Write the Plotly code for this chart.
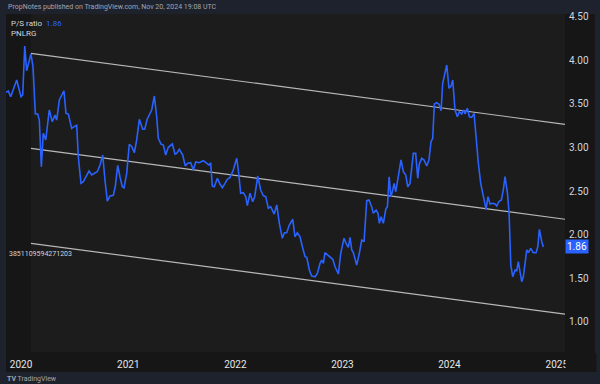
import pandas as pd
import plotly.graph_objects as go

# ---- data (decimal years, P/S ratio) ----
years = [2019.860, 2019.881, 2019.904, 2019.928, 2019.960, 2019.984, 2020.000, 2020.016, 2020.035, 2020.053,
         2020.075, 2020.093, 2020.112, 2020.134, 2020.156, 2020.171, 2020.190, 2020.208, 2020.231, 2020.264,
         2020.292, 2020.317, 2020.333, 2020.358, 2020.401, 2020.420, 2020.442, 2020.473, 2020.495, 2020.520,
         2020.535, 2020.560, 2020.582, 2020.607, 2020.635, 2020.660, 2020.682, 2020.712, 2020.738, 2020.763,
         2020.784, 2020.806, 2020.831, 2020.862, 2020.880, 2020.903, 2020.924, 2020.946, 2020.962, 2020.987,
         2021.011, 2021.034, 2021.058, 2021.080, 2021.105, 2021.136, 2021.155, 2021.179, 2021.220, 2021.245,
         2021.267, 2021.282, 2021.307, 2021.329, 2021.351, 2021.375, 2021.413, 2021.438, 2021.454, 2021.478,
         2021.510, 2021.534, 2021.556, 2021.584, 2021.609, 2021.631, 2021.662, 2021.702, 2021.727, 2021.755,
         2021.771, 2021.786, 2021.805, 2021.833, 2021.858, 2021.880, 2021.905, 2021.926, 2021.951, 2021.982,
         2022.014, 2022.029, 2022.051, 2022.076, 2022.098, 2022.113, 2022.138, 2022.163, 2022.182, 2022.210,
         2022.238, 2022.262, 2022.285, 2022.309, 2022.331, 2022.364, 2022.388, 2022.412, 2022.440, 2022.459,
         2022.481, 2022.505, 2022.537, 2022.558, 2022.580, 2022.605, 2022.627, 2022.652, 2022.668, 2022.692,
         2022.714, 2022.745, 2022.767, 2022.792, 2022.808, 2022.823, 2022.838, 2022.864, 2022.892, 2022.911,
         2022.932, 2022.963, 2022.985, 2023.016, 2023.035, 2023.056, 2023.072, 2023.088, 2023.103, 2023.134,
         2023.159, 2023.181, 2023.203, 2023.228, 2023.249, 2023.274, 2023.289, 2023.315, 2023.333, 2023.346,
         2023.362, 2023.383, 2023.406, 2023.421, 2023.437, 2023.453, 2023.471, 2023.483, 2023.499, 2023.523,
         2023.548, 2023.570, 2023.592, 2023.611, 2023.632, 2023.663, 2023.685, 2023.704, 2023.719, 2023.741,
         2023.763, 2023.788, 2023.809, 2023.828, 2023.844, 2023.859, 2023.881, 2023.903, 2023.922, 2023.937,
         2023.975, 2023.996, 2024.015, 2024.031, 2024.052, 2024.074, 2024.093, 2024.115, 2024.130, 2024.146,
         2024.167, 2024.186, 2024.208, 2024.230, 2024.248, 2024.270, 2024.292, 2024.317, 2024.342, 2024.360,
         2024.379, 2024.404, 2024.426, 2024.442, 2024.460, 2024.485, 2024.503, 2024.519, 2024.542, 2024.557,
         2024.573, 2024.591, 2024.613, 2024.629, 2024.643, 2024.659, 2024.675, 2024.690, 2024.706, 2024.722,
         2024.737, 2024.759, 2024.783, 2024.809, 2024.825, 2024.840, 2024.862, 2024.877]
ps_ratio = [3.633, 3.648, 3.583, 3.659, 3.774, 3.659, 3.583, 3.602, 4.164, 3.881,
            4.003, 4.072, 3.927, 3.384, 3.384, 3.315, 2.780, 3.163, 3.086, 3.430,
            3.296, 3.373, 3.315, 3.545, 3.651, 3.392, 3.384, 3.220, 3.239, 3.255,
            2.894, 2.589, 2.608, 2.665, 2.730, 2.685, 2.704, 2.722, 2.799, 2.914,
            2.627, 2.386, 2.444, 2.452, 2.550, 2.796, 2.665, 2.550, 2.536, 2.704,
            3.037, 3.009, 2.940, 3.086, 3.323, 3.209, 3.209, 3.327, 3.430, 3.591,
            3.353, 3.106, 3.040, 3.029, 2.914, 3.002, 3.040, 2.925, 2.933, 2.979,
            2.914, 2.788, 2.819, 2.826, 2.742, 2.834, 2.826, 2.849, 2.826, 2.799,
            2.826, 2.558, 2.550, 2.647, 2.581, 2.539, 2.589, 2.635, 2.654, 2.742,
            2.876, 2.742, 2.475, 2.482, 2.436, 2.333, 2.475, 2.378, 2.436, 2.673,
            2.513, 2.447, 2.436, 2.303, 2.321, 2.237, 2.341, 2.131, 1.959, 2.023,
            2.023, 2.111, 2.177, 1.977, 2.023, 1.977, 1.862, 1.748, 1.741, 1.595,
            1.526, 1.518, 1.557, 1.672, 1.710, 1.672, 1.794, 1.767, 1.729, 1.718,
            1.633, 1.549, 1.787, 1.959, 1.901, 1.855, 1.970, 1.825, 1.794, 1.652,
            1.787, 1.939, 1.920, 2.390, 2.398, 2.321, 2.245, 2.283, 2.245, 2.131,
            2.206, 2.131, 2.295, 2.321, 2.665, 2.436, 2.513, 2.589, 2.493, 2.665,
            2.857, 2.722, 2.685, 2.550, 2.589, 2.933, 2.933, 2.647, 2.811, 2.876,
            2.857, 2.788, 2.857, 3.066, 3.106, 3.499, 3.514, 3.495, 3.422, 3.736,
            3.946, 3.679, 3.705, 3.774, 3.430, 3.353, 3.411, 3.384, 3.430, 3.384,
            3.450, 3.353, 3.346, 3.392, 3.124, 2.819, 2.589, 2.436, 2.291, 2.436,
            2.352, 2.360, 2.352, 2.329, 2.378, 2.398, 2.513, 2.665, 2.475, 2.245,
            1.652, 1.518, 1.595, 1.587, 1.690, 1.576, 1.461, 1.518, 1.710, 1.825,
            1.794, 1.844, 1.794, 1.794, 1.862, 2.062, 1.920, 1.860]

# parallel channel drawing (start / end anchors)
channel_years = [2020.093, 2025.079]
channel_upper = [4.080, 3.266]
channel_middle = [2.991, 2.177]
channel_lower = [1.901, 1.090]

tick_years = [2020, 2021, 2022, 2023, 2024, 2025]
y_ticks = [1.0, 1.5, 2.0, 2.5, 3.0, 3.5, 4.0, 4.5]
last_value = 1.86
x_range_years = [2019.860, 2025.079]
y_range = [0.655, 4.531]


def to_dt(t):
    return pd.Timestamp("2020-01-01") + pd.to_timedelta((t - 2020) * 365.25, unit="D")


dates = [to_dt(t) for t in years]
ch_dates = [to_dt(t) for t in channel_years]

BLUE = "#2962ff"
LINE_GREY = "#b8b8b8"
PANEL = "#161616"
PANEL_LIGHT = "#1c1c1c"
OUTER = "#1e222d"
TXT = "#d1d4dc"
FONT = "Roboto"

fig = go.Figure()
for vals in (channel_upper, channel_middle, channel_lower):
    fig.add_trace(go.Scatter(x=ch_dates, y=vals, mode="lines",
                             line=dict(color=LINE_GREY, width=1.2), hoverinfo="skip"))
fig.add_trace(go.Scatter(x=dates, y=ps_ratio, mode="lines",
                         line=dict(color=BLUE, width=1.6), name="P/S ratio"))

W, H = 600, 384
ML, MR, MT, MB = 6, 35, 14, 32
PW, PH = W - ML - MR, H - MT - MB


def px_x(px):
    return (px - ML) / PW


def px_y(py):
    return (H - MB - py) / PH


shapes = [
    dict(type="rect", xref="paper", yref="paper", x0=px_x(6), x1=px_x(595),
         y0=px_y(372), y1=px_y(14), fillcolor=PANEL, line=dict(width=0), layer="below"),
    dict(type="rect", xref="x", yref="paper", x0=ch_dates[0], x1=to_dt(x_range_years[1]),
         y0=0, y1=1, fillcolor=PANEL_LIGHT, line=dict(width=0), layer="below"),
]

annotations = [
    dict(text="PropNotes published on TradingView.com, Nov 20, 2024 19:08 UTC",
         xref="paper", yref="paper", x=px_x(5.5), y=px_y(7), xanchor="left", yanchor="middle",
         showarrow=False, font=dict(family=FONT, size=7, color="#a3a6af")),
    dict(text=f"P/S ratio  <span style='color:{BLUE}'>{last_value:.2f}</span>",
         xref="paper", yref="paper", x=px_x(9), y=px_y(23.5), xanchor="left", yanchor="middle",
         showarrow=False, font=dict(family=FONT, size=8, color=TXT)),
    dict(text="PNLRG", xref="paper", yref="paper", x=px_x(9), y=px_y(34), xanchor="left",
         yanchor="middle", showarrow=False, font=dict(family=FONT, size=8, color=TXT)),
    dict(text="3851109594271203", xref="paper", yref="paper", x=px_x(6.5), y=px_y(254),
         xanchor="left", yanchor="middle", showarrow=False,
         font=dict(family=FONT, size=7, color=TXT)),
    # price-scale column covers the overflowing last year label
    dict(text=" ", xref="paper", yref="paper", x=1.0, y=px_y(372), xanchor="left",
         yanchor="bottom", showarrow=False, width=30, height=17, bgcolor=PANEL, borderpad=0,
         font=dict(size=6)),
    dict(text=f"{last_value:.2f}", xref="paper", yref="y", x=1.0, y=last_value,
         xanchor="left", yanchor="middle", showarrow=False, bgcolor=BLUE, borderpad=1,
         font=dict(family=FONT, size=10, color="#ffffff")),
    dict(text="<b>TV</b> TradingView", xref="paper", yref="paper", x=px_x(5), y=px_y(379),
         xanchor="left", yanchor="middle", showarrow=False,
         font=dict(family=FONT, size=7, color="#a3a6af")),
]

fig.update_layout(
    width=W, height=H, margin=dict(l=ML, r=MR, t=MT, b=MB),
    paper_bgcolor=OUTER, plot_bgcolor="rgba(0,0,0,0)", showlegend=False,
    shapes=shapes, annotations=annotations,
    xaxis=dict(type="date", range=[to_dt(x_range_years[0]), to_dt(x_range_years[1])],
               tickvals=[pd.Timestamp(f"{y}-01-01") for y in tick_years],
               ticktext=[str(y) for y in tick_years],
               showgrid=False, zeroline=False, showline=False, ticks="", ticklen=0,
               ticklabelstandoff=5,
               tickfont=dict(family=FONT, size=10, color="#e6e6e6")),
    yaxis=dict(side="right", range=y_range, tickvals=y_ticks, tickformat=".2f",
               showgrid=False, zeroline=False, showline=False, ticks="", ticklen=0,
               ticklabelstandoff=3,
               tickfont=dict(family=FONT, size=10, color=TXT)),
)

fig.write_html("out.html", config={"displayModeBar": False},
               post_script="document.body.style.margin='0';document.body.style.overflow='hidden';")
